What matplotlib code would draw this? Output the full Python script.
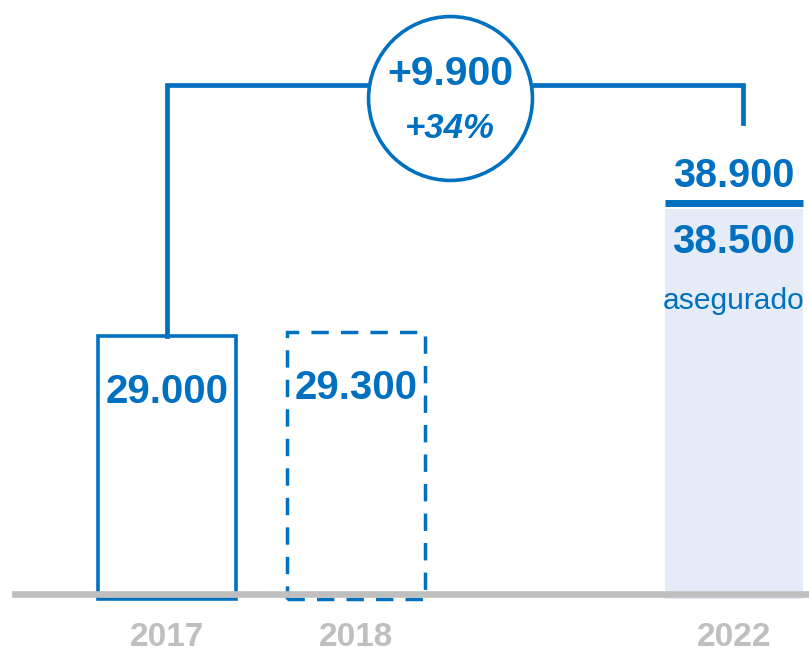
import matplotlib.pyplot as plt

plt.rcParams['font.family'] = ['Liberation Sans', 'DejaVu Sans']

years = ['2017', '2018', '2022']
xpos = [0, 1, 3]
values = [29000, 29300, 38900]
secured_2022 = 38500
secured_label = 'asegurado'

BASE = 9400  # value at which the bars start
blue = '#0070C0'
light = '#E6ECF7'
grey = '#BFBFBF'
width = 0.73


def fmt(v):
    return f"{v:,}".replace(",", ".")


fig = plt.figure(figsize=(8.09, 6.51), dpi=100)
ax = fig.add_axes([0, 0, 1, 1])
ax.set_xlim(-0.8836, 3.3968)
ax.set_ylim(5480, 54088)
ax.axis('off')

# 2017: solid outline
ax.bar(xpos[0], values[0] - BASE, bottom=BASE, width=width, facecolor='none',
       edgecolor=blue, linewidth=2.6, zorder=2)
# 2018: dashed outline (estimate)
ax.bar(xpos[1], values[1] - BASE, bottom=BASE, width=width, facecolor='none',
       edgecolor=blue, linewidth=2.5, linestyle=(0, (5, 3.5)), zorder=2)
# 2022: secured part filled, target marked with a thick line
ax.bar(xpos[2], secured_2022 - BASE, bottom=BASE, width=width, color=light,
       linewidth=0, zorder=1)
ax.plot([xpos[2] - width / 2, xpos[2] + width / 2], [values[2], values[2]],
        color=blue, lw=5, solid_capstyle='butt', zorder=3)

# baseline
ax.axhline(BASE + 314, xmin=15 / 809, xmax=1, color=grey, lw=4.8, zorder=4)

# value labels
for x, v in zip(xpos[:2], values[:2]):
    ax.annotate(fmt(v), (x, v), xytext=(0, -48), textcoords='offset points',
                ha='center', va='baseline', fontsize=29, fontweight='bold',
                color=blue)
ax.annotate(fmt(values[2]), (xpos[2], values[2]), xytext=(0, 12),
            textcoords='offset points', ha='center', va='baseline',
            fontsize=28.5, fontweight='bold', color=blue)
ax.annotate(fmt(secured_2022), (xpos[2], secured_2022), xytext=(0, -32),
            textcoords='offset points', ha='center', va='baseline',
            fontsize=29, fontweight='bold', color=blue)
ax.annotate(secured_label, (xpos[2], secured_2022), xytext=(0, -72),
            textcoords='offset points', ha='center', va='baseline',
            fontsize=21.6, color=blue)

# year labels
for x, y in zip(xpos, years):
    ax.annotate(y, (x, BASE), xytext=(0, -34.5), textcoords='offset points',
                ha='center', va='baseline', fontsize=24, fontweight='bold',
                color=grey)

# bracket between 2017 and 2022 with the change in a circle
top = 47778
right_x = 3.05
ax.plot([xpos[0], xpos[0], right_x, right_x], [values[0], top, top, 44904],
        color=blue, lw=3.4, solid_joinstyle='miter', zorder=2)

diff = values[2] - values[0]
pct = round(diff / values[0] * 100)
cx, cy = 1.497, 46770
ax.plot(cx, cy, marker='o', markersize=118, markerfacecolor='white',
        markeredgecolor=blue, markeredgewidth=2.6, zorder=5)
ax.annotate('+' + fmt(diff), (cx, cy), xytext=(0, 9.4),
            textcoords='offset points', ha='center', va='baseline',
            fontsize=29.4, fontweight='bold', color=blue, zorder=6)
ax.annotate(f'+{pct}%', (cx, cy), xytext=(0, -28.8),
            textcoords='offset points', ha='center', va='baseline',
            fontsize=25, fontweight='bold', fontstyle='italic', color=blue,
            zorder=6)

fig.savefig('out.png', dpi=100)
